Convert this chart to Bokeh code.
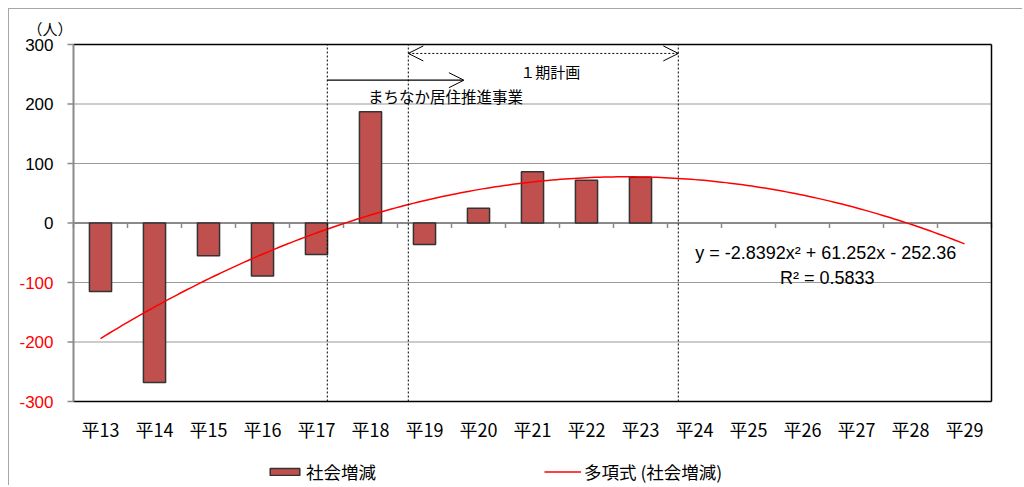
import numpy as np
from bokeh.plotting import figure
from bokeh.models import (Arrow, OpenHead, Legend, LegendItem, ColumnDataSource, Range1d)
from bokeh.core.properties import value
from bokeh.embed import file_html
from bokeh.resources import INLINE

# ---- data ----
categories = ["平13", "平14", "平15", "平16", "平17", "平18", "平19", "平20", "平21",
              "平22", "平23", "平24", "平25", "平26", "平27", "平28", "平29"]
social_change = [-115, -268, -55, -89, -53, 187, -36, 25, 86, 72, 77]  # 平13..平23
y_ticks = [-300, -200, -100, 0, 100, 200, 300]
equation_text = "y = -2.8392x² + 61.252x - 252.36"
r2_text = "R² = 0.5833"
bar_label = "社会増減"
trend_label = "多項式 (社会増減)"
unit_label = "（人）"
plan_label = "１期計画"
project_label = "まちなか居住推進事業"

JP = "Noto Sans CJK JP"
NUM = "Liberation Sans"

n_cat = len(categories)
y_lo, y_hi = y_ticks[0], y_ticks[-1]
xs = list(range(1, len(social_change) + 1))
src = ColumnDataSource(dict(x=xs, y=social_change))

# quadratic trend fitted to the bars, extended over all categories
coef = np.polyfit(xs, social_change, 2)
tx = np.linspace(1, n_cat, 200)
ty = np.polyval(coef, tx)

# ---- geometry (pixels) ----
W, H = 1014, 477
PLOT_L, PLOT_R, PLOT_T, PLOT_B = 64, 982, 35, 392   # plot area inside canvas
FR_R = 990                                          # frame right
xpx = (PLOT_R - PLOT_L) / n_cat
ypx = (PLOT_B - PLOT_T) / (y_hi - y_lo)
x0 = 0.5 - PLOT_L / xpx
x1 = n_cat + 0.5 + (FR_R - PLOT_R) / xpx
yt = y_hi + PLOT_T / ypx
yb = y_lo - (H - PLOT_B) / ypx

p = figure(width=W, height=H, output_backend="svg", toolbar_location=None,
           x_range=Range1d(x0, x1), y_range=Range1d(yb, yt),
           min_border_left=0, min_border_right=W - FR_R, min_border_top=0,
           min_border_bottom=0)
p.styles = {"margin-left": "8px", "margin-top": "8px",
            "border-left": "1px solid #a6a6a6", "border-top": "1px solid #a6a6a6"}
p.background_fill_color = "white"
p.border_fill_color = "white"
p.outline_line_color = None
p.xgrid.visible = False
p.ygrid.visible = False
p.xaxis.visible = False
p.yaxis.visible = False

xl, xr = 0.5, n_cat + 0.5
# horizontal grid lines
grid = [t for t in y_ticks if t not in (0, y_hi)]
p.segment(x0=[xl] * len(grid), x1=[xr] * len(grid), y0=grid, y1=grid,
          line_color="#9a9a9a", line_width=1.2)
# category labels
xlab = ColumnDataSource(dict(x=list(range(1, n_cat + 1)),
                             y=[y_lo - 27 / ypx] * n_cat, t=categories))
p.text(x="x", y="y", text="t", source=xlab, text_align="center", text_baseline="middle",
       text_font=value(JP), text_font_size="18px", text_color="black")
# zero line with category tick marks
p.segment(x0=[xl], x1=[xr], y0=[0], y1=[0], line_color="#8a8a8a", line_width=2)
bx = [i + 0.5 for i in range(0, n_cat + 1)]
p.segment(x0=bx, x1=bx, y0=[0] * len(bx), y1=[-5 / ypx] * len(bx),
          line_color="#8a8a8a", line_width=1.5)
# plot-area border (top, right, bottom black; left = grey value axis)
p.segment(x0=[xl, xr, xl], x1=[xr, xr, xr], y0=[y_hi, y_hi, y_lo], y1=[y_hi, y_lo, y_lo],
          line_color="black", line_width=1.5)
p.segment(x0=[xl], x1=[xl], y0=[y_lo], y1=[y_hi], line_color="#8a8a8a", line_width=2)
# value axis ticks and labels
tick_dx = 6 / xpx
p.segment(x0=[xl - tick_dx] * len(y_ticks), x1=[xl] * len(y_ticks), y0=y_ticks, y1=y_ticks,
          line_color="#8a8a8a", line_width=1.5)
ylab = ColumnDataSource(dict(x=[xl - 20 / xpx] * len(y_ticks), y=y_ticks,
                             t=[str(t) for t in y_ticks],
                             c=["red" if t < 0 else "black" for t in y_ticks]))
p.text(x="x", y="y", text="t", text_color="c", source=ylab, text_align="right",
       text_baseline="middle", text_font=value(NUM), text_font_size="17px")
p.text(x=[xl - 1 / xpx], y=[y_hi + 16 / ypx], text=[unit_label], text_align="right",
       text_baseline="middle", text_font=value(JP), text_font_size="15px")

# bars and trend
bars = p.vbar(x="x", top="y", width=0.41, source=src, fill_color="#C0504D",
              line_color="#333333", line_width=1.5)
trend = p.line(tx, ty, line_color="#FF0000", line_width=1.5)

# dotted vertical markers
for xv in [5.2, 6.7, 11.7]:
    p.segment(x0=[xv], x1=[xv], y0=[y_lo], y1=[y_hi], line_color="black",
              line_dash="2 2", line_width=1)

# arrows
p.add_layout(Arrow(start=OpenHead(size=15, line_width=1), end=OpenHead(size=15, line_width=1),
                   x_start=6.7, y_start=285, x_end=11.7, y_end=285,
                   line_dash="2 2", line_width=1, line_color="black"))
p.add_layout(Arrow(end=OpenHead(size=15, line_width=1),
                   x_start=5.2, y_start=240, x_end=7.73, y_end=240,
                   line_width=1.2, line_color="black"))
p.text(x=[9.33], y=[254], text=[plan_label], text_align="center",
       text_baseline="middle", text_font=value(JP), text_font_size="15px")
p.text(x=[7.39], y=[214], text=[project_label], text_align="center",
       text_baseline="middle", text_font=value(JP), text_font_size="15.5px")

# equation
p.text(x=[14.43, 14.46], y=[-50, -92], text=[equation_text, r2_text], text_align="center",
       text_baseline="middle", text_font=value(NUM), text_font_size="18px")

legend = Legend(items=[LegendItem(label=bar_label, renderers=[bars]),
                       LegendItem(label=trend_label, renderers=[trend])],
                orientation="horizontal", location=(257, 2),
                glyph_width=37, glyph_height=9, spacing=168, padding=0, margin=0,
                label_text_font=JP, label_text_font_size="17.5px", label_text_color="black",
                label_standoff=3, border_line_color=None, background_fill_alpha=0)
p.add_layout(legend, "center")

open("out.html", "w").write(file_html(p, INLINE))
